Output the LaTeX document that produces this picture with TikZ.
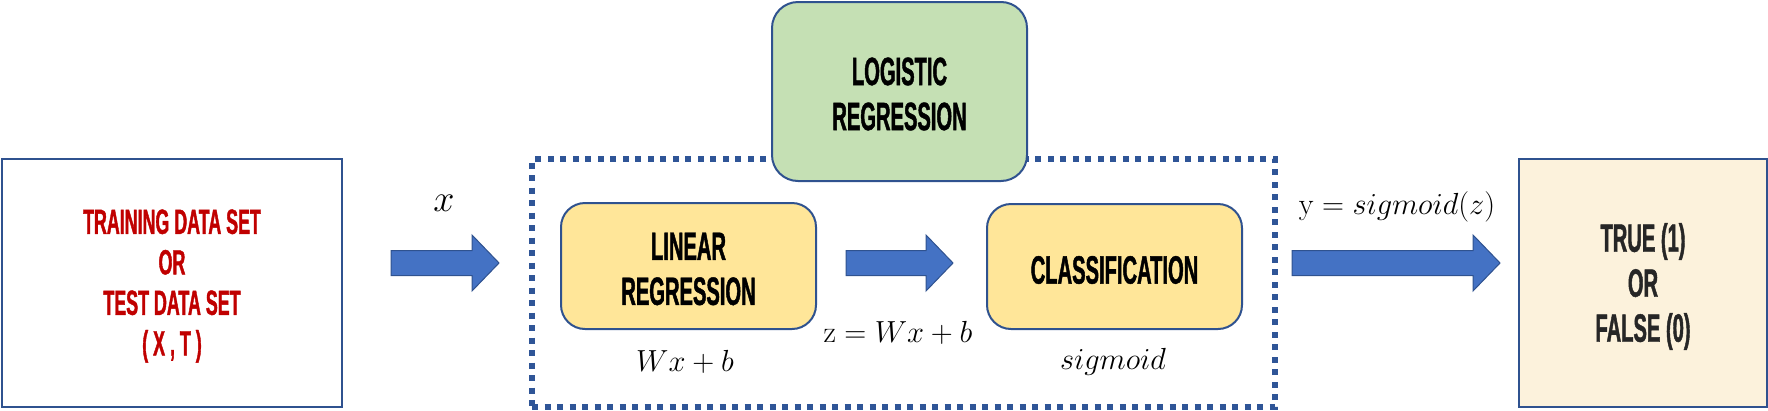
\RequirePackage{fix-cm}
\documentclass[tikz,border=0pt]{standalone}
\usepackage{fontspec}
\newfontfamily\agency{Liberation Sans}[FakeStretch=0.51, FakeBold=1.1]
\usetikzlibrary{calc}
\definecolor{edgeblue}{HTML}{2F528F}
\definecolor{arrowblue}{HTML}{4472C4}
\definecolor{dotblue}{HTML}{2F5597}
\definecolor{greenfill}{HTML}{C5E0B4}
\definecolor{yellowfill}{HTML}{FFE699}
\definecolor{paper}{HTML}{FCF2DC}
\definecolor{darkred}{HTML}{C00000}
\definecolor{darkgray}{HTML}{262626}
\tikzset{
  framebox/.style={draw=edgeblue, line width=2pt, inner sep=0pt},
  roundbox/.style={framebox, rounded corners=26pt},
  dotbox/.style={draw=dotblue, line width=5.5pt, dash pattern=on 6pt off 6.5pt, inner sep=0pt},
  bigtext/.style={align=center, font=\agency\bfseries\fontsize{39.5}{45}\selectfont},
  redtext/.style={align=center, text=darkred, font=\agency\bfseries\fontsize{35}{40.5}\selectfont},
  mathlabel/.style={inner sep=0pt, font=\fontsize{30.5}{36}\selectfont},
  blockarrowstyle/.style={fill=arrowblue, draw=edgeblue, line width=1pt, line join=miter},
}
\newcommand\blockarrow[2]{%
  \path[blockarrowstyle] let \p1=(#1), \p2=(#2) in
    (\x1,\y1+12.5pt) -- (\x2-27pt,\y1+12.5pt) -- (\x2-27pt,\y1+28pt) -- (\x2,\y1)
    -- (\x2-27pt,\y1-28pt) -- (\x2-27pt,\y1-12.5pt) -- (\x1,\y1-12.5pt) -- cycle;}
\begin{document}
\begin{tikzpicture}[x=1pt, y=-1pt]
\useasboundingbox (0,0) rectangle (1768,410);
% left data box
\node[framebox, minimum width=340pt, minimum height=248pt] (train) at (172,283) {};
\node[redtext] (traintxt) at ([yshift=-3pt]train.center) {TRAINING DATA SET\\OR\\TEST DATA SET\\( X , T )};
% dotted logistic box
\node[dotbox, minimum width=743pt, minimum height=248pt] (lrbox) at (903.5,283) {};
% green title box
\node[roundbox, fill=greenfill, minimum width=255pt, minimum height=179pt] (logit) at (899.5,91.5) {};
\node[bigtext] (logittxt) at ([yshift=-2.5pt]logit.center) {LOGISTIC\\REGRESSION};
% linear regression
\node[roundbox, rounded corners=24pt, fill=yellowfill, minimum width=255pt, minimum height=126pt] (linreg) at (688.5,266) {};
\node[bigtext] (linregtxt) at ([yshift=-3pt]linreg.center) {LINEAR\\REGRESSION};
% classification
\node[roundbox, rounded corners=24pt, fill=yellowfill, minimum width=255pt, minimum height=125pt] (classif) at (1114.5,266.5) {};
\node[bigtext] (classiftxt) at ([yshift=-3.5pt]classif.center) {CLASSIFICATION};
% output box
\node[framebox, fill=paper, minimum width=248pt, minimum height=248pt] (out) at (1643,283) {};
\node[bigtext, text=darkgray] (outtxt) at ([yshift=-3.5pt]out.center) {TRUE (1)\\OR\\FALSE (0)};
% arrows
\coordinate (a1s) at (391,263);
\coordinate (a1e) at (499,263);
\coordinate (a2s) at (846,263);
\coordinate (a2e) at (953,263);
\coordinate (a3s) at (1292,263);
\coordinate (a3e) at (1500,263);
\blockarrow{a1s}{a1e}
\blockarrow{a2s}{a2e}
\blockarrow{a3s}{a3e}
% labels
\node[mathlabel, font=\fontsize{38}{44}\selectfont] (xlab) at (444,203) {$x$};
\node[mathlabel] (wxb) at (685,362) {$Wx+b$};
\node[mathlabel] (zlab) at (898,333) {$\mathrm{z}=Wx+b$};
\node[mathlabel] (siglab) at (1113,362) {$sigmoid$};
\node[mathlabel] (ylab) at (1397,207) {$\mathrm{y}=sigmoid(z)$};
\end{tikzpicture}
\end{document}
